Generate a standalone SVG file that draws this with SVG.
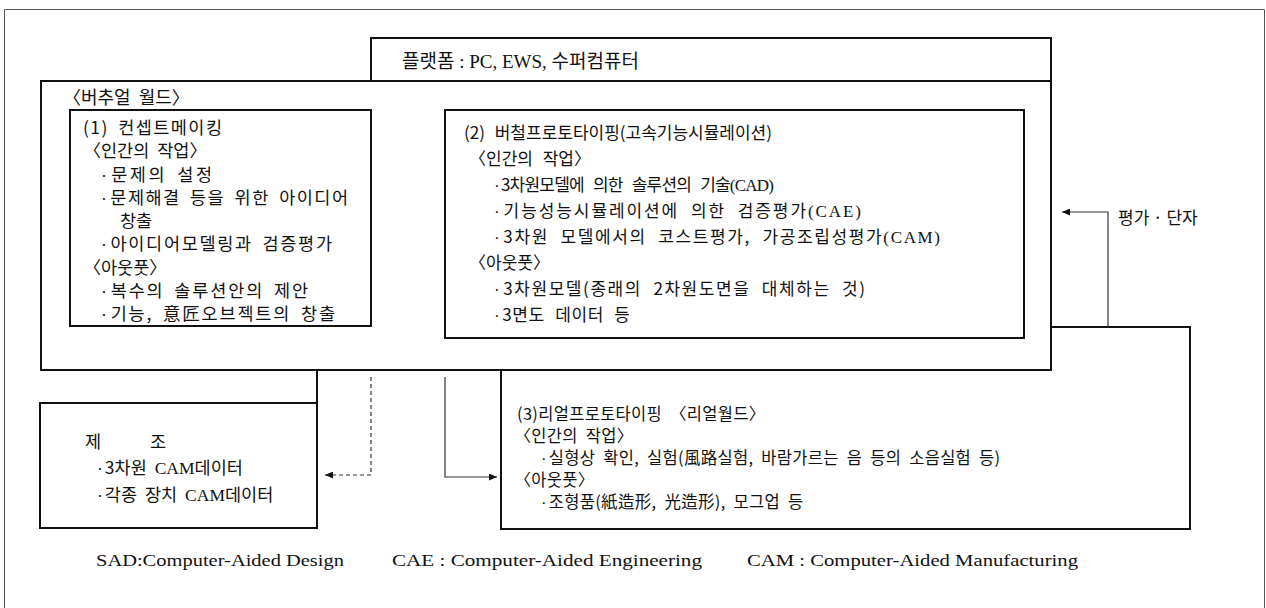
<svg xmlns="http://www.w3.org/2000/svg" width="1266" height="608" viewBox="0 0 1266 608">
<style>
.box{fill:#fff;stroke:#111;stroke-width:2}
.frame{fill:none;stroke:#555;stroke-width:1}
.k{font-family:"Noto Sans CJK KR",sans-serif;fill:#111}
.s{font-family:"Liberation Serif","Noto Sans CJK KR",serif}
.b{font-family:"Liberation Sans",sans-serif}
.c1{font-size:17.5px;word-spacing:4px}
.c2{font-size:17px;word-spacing:6px}
.c3{font-size:16.5px;word-spacing:4px;letter-spacing:0.3px}
.conn{fill:none;stroke:#333;stroke-width:1.2}
.dash{stroke-dasharray:4 3}
.leg{font-family:"Liberation Serif",serif;font-size:17px;fill:#111}
</style>
<defs>
<marker id="arr" viewBox="0 0 8 7" refX="8" refY="3.5" markerWidth="8" markerHeight="7" markerUnits="userSpaceOnUse" orient="auto">
<path d="M0,0 L8,3.5 L0,7 z" fill="#111"/>
</marker>
</defs>
<rect width="1266" height="608" fill="#fff"/>
<path class="frame" d="M4.5,608 V9.5 H1264.5 V608"/>

<g id="real-prototyping">
<rect class="box" x="501" y="327" width="689" height="202"/>
<text class="k c3" x="517" y="419.5">(3)리얼프로토타이핑 〈리얼월드〉</text>
<text class="k c3" x="514.5" y="441.5">〈인간의 작업〉</text>
<text class="k c3" x="541" y="463.5"><tspan class="b">·</tspan><tspan dx="2">실형상 확인, 실험(風路실험, 바람가르는 음 등의 소음실험 등)</tspan></text>
<text class="k c3" x="514.5" y="485.5">〈아웃풋〉</text>
<text class="k c3" x="541" y="507.5"><tspan class="b">·</tspan><tspan dx="2">조형품(紙造形, 光造形), 모그업 등</tspan></text>
</g>

<g id="manufacturing">
<path class="box" d="M317,370 V528 H40 V403 H317"/>
<text class="k" font-size="17.5"><tspan x="85" y="447.5">제</tspan><tspan x="150" y="447.5">조</tspan></text>
<text class="k" font-size="17.5" word-spacing="4" x="97" y="473.5"><tspan class="b">·</tspan><tspan dx="2">3차원 </tspan><tspan class="s">CAM</tspan>데이터</text>
<text class="k" font-size="17.5" word-spacing="4" x="97" y="500.5"><tspan class="b">·</tspan><tspan dx="2">각종 장치 </tspan><tspan class="s">CAM</tspan>데이터</text>
</g>

<g id="virtual-world">
<rect class="box" x="41" y="81" width="1010" height="289"/>
<text class="k" font-size="18" word-spacing="4" x="63" y="104">〈버추얼 월드〉</text>
</g>

<g id="platform">
<rect class="box" x="371" y="38" width="680" height="43"/>
<text class="s" font-size="19" x="402" y="68" fill="#111">플랫폼 : PC, EWS, 수퍼컴퓨터</text>
</g>

<g id="concept-making">
<rect class="box" x="70" y="110" width="301" height="216"/>
<text class="k c1" x="83" y="134" textLength="139">(1) 컨셉트메이킹</text>
<text class="k c1" x="83.5" y="157.25">〈인간의 작업〉</text>
<text class="k c1" x="101" y="180.5" textLength="111"><tspan class="b">·</tspan><tspan dx="2">문제의 설정</tspan></text>
<text class="k c1" x="101" y="203.75" textLength="247"><tspan class="b">·</tspan><tspan dx="2">문제해결 등을 위한 아이디어</tspan></text>
<text class="k c1" x="120" y="227">창출</text>
<text class="k c1" x="101" y="250.25" textLength="231"><tspan class="b">·</tspan><tspan dx="2">아이디어모델링과 검증평가</tspan></text>
<text class="k c1" x="83.5" y="273.5">〈아웃풋〉</text>
<text class="k c1" x="101" y="296.75" textLength="207"><tspan class="b">·</tspan><tspan dx="2">복수의 솔루션안의 제안</tspan></text>
<text class="k c1" x="101" y="320" textLength="234"><tspan class="b">·</tspan><tspan dx="2">기능, 意匠오브젝트의 창출</tspan></text>
</g>

<g id="virtual-prototyping">
<rect class="box" x="445" y="110" width="579" height="228"/>
<text class="k c2" x="464" y="139" textLength="308">(2) 버철프로토타이핑(고속기능시뮬레이션)</text>
<text class="k c2" x="469" y="165">〈인간의 작업〉</text>
<text class="k c2" x="494" y="191" textLength="280"><tspan class="b">·</tspan><tspan dx="2">3차원모델에 의한 솔루션의 기술</tspan><tspan class="s">(CAD)</tspan></text>
<text class="k c2" x="494" y="217" textLength="367"><tspan class="b">·</tspan><tspan dx="2">기능성능시뮬레이션에 의한 검증평가</tspan><tspan class="s">(CAE)</tspan></text>
<text class="k c2" x="494" y="243" textLength="446"><tspan class="b">·</tspan><tspan dx="2">3차원 모델에서의 코스트평가, 가공조립성평가</tspan><tspan class="s">(CAM)</tspan></text>
<text class="k c2" x="469" y="269">〈아웃풋〉</text>
<text class="k c2" x="494" y="295" textLength="371"><tspan class="b">·</tspan><tspan dx="2">3차원모델(종래의 2차원도면을 대체하는 것)</tspan></text>
<text class="k c2" x="494" y="321" textLength="136"><tspan class="b">·</tspan><tspan dx="2">3면도 데이터 등</tspan></text>
</g>

<g id="connectors">
<path class="conn" d="M1108,327 V212 H1062" marker-end="url(#arr)"/>
<path class="conn dash" d="M371,377 V475 H325" marker-end="url(#arr)"/>
<path class="conn" d="M445,377 V477 H497" marker-end="url(#arr)"/>
</g>

<g id="feedback-label">
<text class="k" font-size="17" x="1118" y="224">평가 · 단자</text>
</g>

<g id="legend">
<text class="leg" x="96" y="566" textLength="248" lengthAdjust="spacingAndGlyphs">SAD:Computer-Aided Design</text>
<text class="leg" x="392" y="566" textLength="310" lengthAdjust="spacingAndGlyphs">CAE : Computer-Aided Engineering</text>
<text class="leg" x="747" y="566" textLength="331" lengthAdjust="spacingAndGlyphs">CAM : Computer-Aided Manufacturing</text>
</g>
</svg>
